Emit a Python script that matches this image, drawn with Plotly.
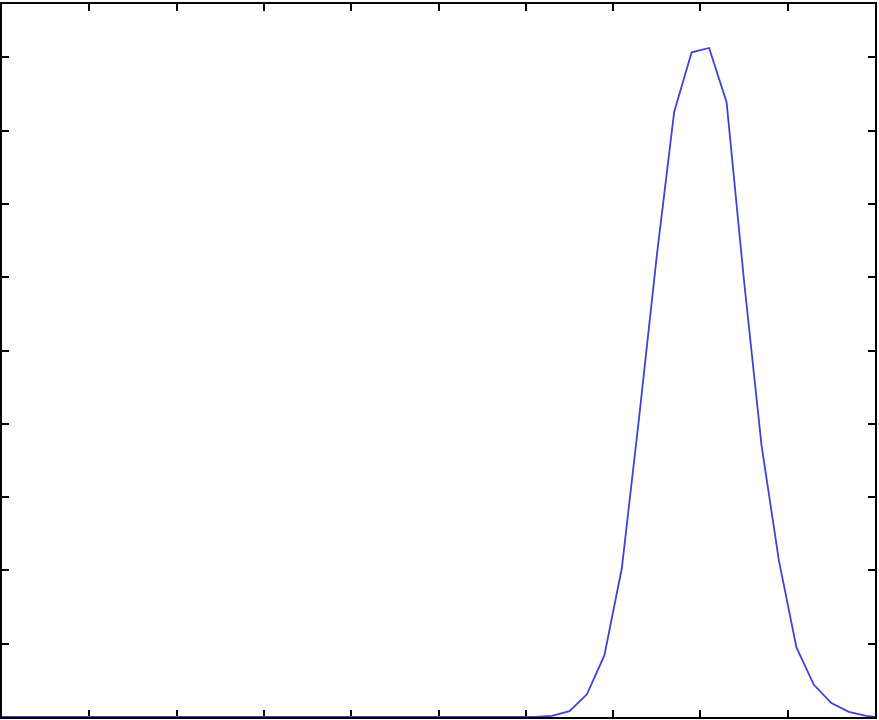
import plotly.graph_objects as go

# curve samples (x in tick units, y in tick units)
x_vals = [0.0, 6.1, 6.3, 6.5, 6.7, 6.9, 7.1, 7.3, 7.5, 7.7, 7.9,
          8.1, 8.3, 8.5, 8.7, 8.9, 9.1, 9.3, 9.5, 9.7, 9.9, 10.0]
y_vals = [0.0, 0.0, 0.014, 0.08, 0.31, 0.84, 2.03, 4.11, 6.29, 8.26, 9.07,
          9.13, 8.39, 5.95, 3.71, 2.13, 0.95, 0.44, 0.19, 0.07, 0.014, 0.0]

x_ticks = [1, 2, 3, 4, 5, 6, 7, 8, 9]
y_ticks = [1, 2, 3, 4, 5, 6, 7, 8, 9]

fig = go.Figure(go.Scatter(
    x=x_vals,
    y=y_vals,
    mode='lines',
    line=dict(color='rgb(65,65,215)', width=1.8),
    cliponaxis=False,
    showlegend=False,
))

axis_style = dict(
    showline=True, linecolor='black', linewidth=2, mirror='ticks',
    ticks='inside', ticklen=7, tickwidth=1.5, tickcolor='black',
    showticklabels=False, showgrid=False, zeroline=False,
    layer='below traces',
)

fig.update_xaxes(range=[0, 10], tickvals=x_ticks, **axis_style)
fig.update_yaxes(range=[0, 9.73], tickvals=y_ticks, **axis_style)

fig.update_layout(
    width=879, height=720,
    margin=dict(l=2, r=2, t=2, b=3),
    plot_bgcolor='white', paper_bgcolor='white',
)

# drop the page's default body margin so the figure sits at the corner
fig.write_html("out.html", config={'displayModeBar': False},
               post_script="document.body.style.margin='0';")
